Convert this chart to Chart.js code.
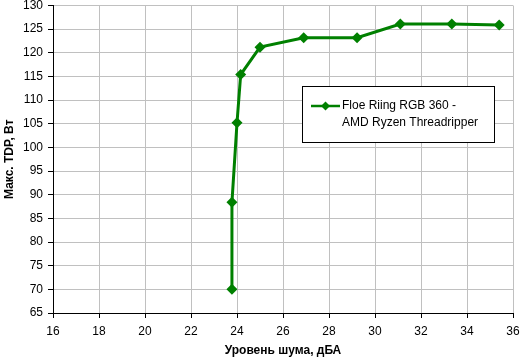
<!DOCTYPE html>
<html><head><meta charset="utf-8">
<script src="https://cdn.jsdelivr.net/npm/chart.js@4"></script>
<style>html,body{margin:0;padding:0;background:#fff}#c{display:block}</style>
</head><body>
<canvas id="c" width="520" height="358"></canvas>
<script>
const seriesLabel = ["Floe Riing RGB 360 -", "AMD Ryzen Threadripper"];
const noiseDb = [23.78, 23.78, 24.0, 24.16, 25.0, 26.9, 29.22, 31.1, 33.34, 35.4];
const tdpW = [70, 88.4, 105.2, 115.4, 121.2, 123.2, 123.2, 126.1, 126.1, 125.9];
const xTitle = "Уровень шума, дБА";
const yTitle = "Макс. TDP, Вт";
const xMin = 16, xMax = 36, xStep = 2;
const yMin = 65, yMax = 130, yStep = 5;

const green = '#008000';
const FONT = "'Liberation Sans', Arial, sans-serif";

const legendPlugin = {
  id: 'boxLegend',
  afterDraw(chart) {
    const ctx = chart.ctx;
    ctx.save();
    const x0 = 302.5, y0 = 86.5, w = 192, h = 56;
    ctx.fillStyle = '#fff';
    ctx.fillRect(x0, y0, w, h);
    ctx.strokeStyle = '#000';
    ctx.lineWidth = 1;
    ctx.strokeRect(x0, y0, w, h);
    const ly = 106;
    ctx.strokeStyle = green;
    ctx.lineWidth = 2.5;
    ctx.beginPath(); ctx.moveTo(311, ly); ctx.lineTo(340, ly); ctx.stroke();
    ctx.fillStyle = green;
    ctx.beginPath();
    const r = 4.5, cx = 325.5;
    ctx.moveTo(cx, ly - r); ctx.lineTo(cx + r, ly); ctx.lineTo(cx, ly + r); ctx.lineTo(cx - r, ly);
    ctx.closePath(); ctx.fill();
    ctx.fillStyle = '#000';
    ctx.font = "12px " + FONT;
    ctx.textBaseline = 'middle';
    ctx.textAlign = 'left';
    ctx.fillText(seriesLabel[0], 342, ly);
    ctx.fillText(seriesLabel[1], 342, ly + 16.5);
    ctx.restore();
  }
};

new Chart(document.getElementById('c'), {
  type: 'scatter',
  data: {
    datasets: [{
      label: seriesLabel.join(' '),
      data: noiseDb.map((x, i) => ({x: x, y: tdpW[i]})),
      showLine: true,
      borderColor: green,
      backgroundColor: green,
      borderWidth: 3,
      pointStyle: 'rectRot',
      pointRadius: 5.5,
      pointHoverRadius: 5.5,
      pointBorderWidth: 0,
      tension: 0
    }]
  },
  options: {
    responsive: false,
    animation: false,
    events: [],
    layout: {padding: {top: 5, right: 7, left: 0, bottom: 0}},
    plugins: {legend: {display: false}, tooltip: {enabled: false}},
    scales: {
      x: {
        type: 'linear', min: xMin, max: xMax,
        ticks: {stepSize: xStep, color: '#000', font: {family: FONT, size: 12}, padding: 6, maxRotation: 0},
        grid: {color: '#c0c0c0', tickColor: '#000', tickLength: 5, lineWidth: 1},
        border: {color: '#000', width: 1},
        title: {display: true, text: xTitle, color: '#000', font: {family: FONT, size: 12, weight: 'bold'}, padding: {top: 2, bottom: 0}},
        afterFit(s) { s.height = 45; s.paddingLeft = 0; s.paddingRight = 0; }
      },
      y: {
        type: 'linear', min: yMin, max: yMax,
        ticks: {stepSize: yStep, color: '#000', font: {family: FONT, size: 12}, padding: 5},
        grid: {color: '#c0c0c0', tickColor: '#000', tickLength: 5, lineWidth: 1},
        border: {color: '#000', width: 1},
        title: {display: true, text: yTitle, color: '#000', font: {family: FONT, size: 12, weight: 'bold'}, padding: {top: 2, bottom: 0}},
        afterFit(s) { s.width = 53; s.paddingTop = 0; s.paddingBottom = 0; }
      }
    }
  },
  plugins: [legendPlugin]
});
</script>
</body></html>
